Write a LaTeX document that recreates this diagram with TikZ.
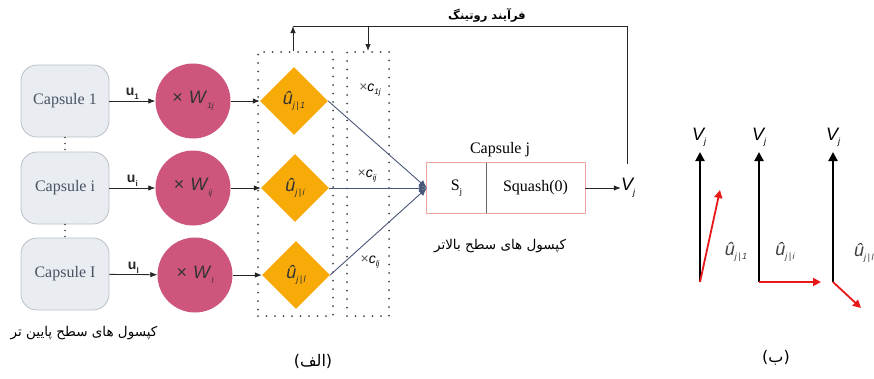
\documentclass[tikz,border=0pt]{standalone}
\usepackage{fontspec}
\setmainfont{Liberation Serif}
\setsansfont{Liberation Sans}
\newfontfamily\fa[Script=Arabic]{DejaVu Sans}
\TeXXeTstate=1
\usetikzlibrary{arrows.meta,shapes.geometric}
\definecolor{capfill}{RGB}{233,237,241}
\definecolor{capdraw}{RGB}{185,192,200}
\definecolor{captext}{RGB}{72,82,98}
\definecolor{wpink}{RGB}{206,86,124}
\definecolor{dorange}{RGB}{248,170,8}
\definecolor{lblue}{RGB}{72,86,120}
\definecolor{jred}{RGB}{236,165,160}
\definecolor{vred}{RGB}{232,24,24}
\definecolor{dotgray}{RGB}{70,70,70}
\newcommand{\lowsub}[2][9]{\raisebox{-0.5ex}{\fontsize{#1}{#1}\selectfont #2}}
\newcommand{\uhatlbl}[1]{{\sffamily\itshape\fontsize{18}{19}\selectfont û\lowsub[9]{#1}}}
\newcommand{\wlbl}[1]{{\sffamily\fontsize{18}{20}\selectfont ×\,\,\textit{W}\lowsub[8]{\itshape #1}}}
\newcommand{\clbl}[1]{{\sffamily\fontsize{14}{16}\selectfont \textcolor{black!65}{×}\textit{c}\lowsub[8]{\itshape #1}}}
\begin{document}
\begin{tikzpicture}[x=1pt,y=-1pt,
  capsule/.style={draw=capdraw, fill=capfill, rounded corners=16pt, minimum width=88pt, minimum height=72pt, line width=0.8pt, font=\rmfamily\fontsize{16}{18}\selectfont, text=captext, inner sep=0pt},
  wcirc/.style={circle, fill=wpink, minimum size=75pt, inner sep=0pt, text=black!80},
  udiam/.style={diamond, fill=dorange, minimum width=68pt, minimum height=68pt, inner sep=0pt, text=black!80},
  arr/.style={-{Latex[length=7pt,width=5.5pt]}, line width=0.8pt, draw=black!85},
  barr/.style={-{Latex[length=8pt,width=7pt]}, line width=0.9pt, draw=lblue},
  dotbox/.style={draw=dotgray, line width=2pt, dash pattern=on 0pt off 8.5pt, line cap=round, inner sep=0pt},
  plain/.style={inner sep=1pt},
  fatxt/.style={inner sep=1pt, font=\fa\fontsize{13.5}{15}\selectfont},
  vblack/.style={-{Triangle[length=9pt,width=9pt]}, line width=2pt},
  vredarr/.style={-{Triangle[length=8pt,width=8pt]}, line width=1.8pt, draw=vred, fill=vred},
  vlbl/.style={inner sep=0pt, font=\sffamily\itshape\fontsize{18}{20}\selectfont},
  ulbl/.style={inner sep=1pt, above, font=\sffamily\bfseries\fontsize{14}{16}\selectfont, text=black!85}]
\useasboundingbox (0,0) rectangle (874,378);

% lower-level capsules
\node[capsule] (c1) at (65,101) {Capsule 1};
\node[capsule] (ci) at (65,188) {Capsule i};
\node[capsule] (cl) at (65,274) {Capsule I};
\draw[dotgray, line width=1.8pt, dash pattern=on 0pt off 6pt, line cap=round] (c1.south) -- (ci.north);
\draw[dotgray, line width=1.8pt, dash pattern=on 0pt off 6pt, line cap=round] (ci.south) -- (cl.north);

% weight circles
\node[wcirc] (w1) at (193,101) {\wlbl{1j}};
\node[wcirc] (wi) at (193,188) {\wlbl{ij}};
\node[wcirc] (wl) at (195,275) {\wlbl{l}};

\draw[arr] (c1) -- node[ulbl] {u\lowsub[8]{1}} (w1);
\draw[arr] (ci) -- node[ulbl] {u\lowsub[8]{i}} (wi);
\draw[arr] (cl) -- node[ulbl] {u\lowsub[8]{l}} (wl);

% dotted boxes
\node[dotbox, minimum width=75pt, minimum height=264pt] (r1) at (295.5,184) {};
\node[dotbox, minimum width=42pt, minimum height=264pt] (r2) at (368,184) {};

% diamonds
\node[udiam] (d1) at (294,101) {\uhatlbl{j\,|\,1}};
\node[udiam] (di) at (295,188) {\uhatlbl{j\,|\,i}};
\node[udiam] (dl) at (296,275) {\uhatlbl{j\,|\,l}};

\draw[arr] (w1) -- (d1.west);
\draw[arr] (wi) -- (di.west);
\draw[arr] (wl) -- (dl.west);

% coupling labels
\node[plain] (k1) at (370,90) {\clbl{1j}};
\node[plain] (ki) at (367,176) {\clbl{ij}};
\node[plain] (kl) at (370,262) {\clbl{lj}};

% capsule j
\node[minimum width=59pt, minimum height=50pt, inner sep=0pt, font=\fontsize{16}{18}\selectfont] (sj) at (456.5,188) {S\lowsub[9]{j}};
\node[minimum width=99pt, minimum height=50pt, inner sep=0pt, font=\fontsize{16}{18}\selectfont] (sq) at (535.5,188) {Squash(0)};
\draw[jred, line width=0.8pt] (sj.north west) rectangle (sq.south east);
\draw[black!60, line width=0.9pt] (sj.north east) -- (sj.south east);
\node[plain, font=\fontsize{16}{18}\selectfont] (cjl) at (500,150) {Capsule j};
\node[fatxt] (hl) at (500,246) {\beginR کپسول های سطح بالاتر\endR};

\draw[barr] (d1.east) -- (sj.west);
\draw[barr] (di.east) -- (sj.west);
\draw[barr] (dl.east) -- (sj.west);

% output
\node[vlbl] (vj) at (628,188) {V\lowsub[9]{j}};
\draw[arr] (sq.east) -- (vj.west);

% routing loop
\coordinate (rt) at (627,26);
\coordinate (lt) at (293,26);
\draw[black!85, line width=0.8pt] ([yshift=14pt]vj.north -| rt) -- (rt) -- (lt);
\draw[arr] (r1.north -| lt) -- (lt);
\draw[arr] (r2.north |- rt) -- (r2.north);
\node[fatxt, font=\fa\bfseries\fontsize{11.5}{13}\selectfont, anchor=south] (rl) at (487,24) {\beginR فرآیند روتینگ\endR};

% lower labels
\node[fatxt] (ll) at (84,333) {\beginR کپسول های سطح پایین تر\endR};
\node[plain, font=\fa\fontsize{16}{18}\selectfont] (la) at (313,361) {\beginR(الف)\endR};
\node[plain, font=\fa\fontsize{16}{18}\selectfont] (lb) at (776,358) {\beginR(ب)\endR};

% panel (b)
\coordinate (a1) at (700,282); \coordinate (a1t) at (700,152); \coordinate (a1r) at (720,190);
\coordinate (a2) at (759,282); \coordinate (a2t) at (759,152); \coordinate (a2r) at (821,282);
\coordinate (a3) at (833,282); \coordinate (a3t) at (833,152); \coordinate (a3r) at (861,308);
\draw[vblack] (a1) -- (a1t);
\draw[vblack] (a2) -- (a2t);
\draw[vblack] (a3) -- (a3t);
\draw[vredarr] (a1) -- (a1r);
\draw[vredarr] (a2) -- (a2r);
\draw[vredarr] (a3) -- (a3r);
\node[vlbl, anchor=south] (v1) at (699,147) {V\lowsub[9]{j}};
\node[vlbl, anchor=south] (v2) at (759,147) {V\lowsub[9]{j}};
\node[vlbl, anchor=south] (v3) at (833,147) {V\lowsub[9]{j}};
\node[plain, text=black!75] (q1) at (736,252) {\uhatlbl{j\,|\,1}};
\node[plain, text=black!75] (q2) at (785,252) {\uhatlbl{j\,|\,i}};
\node[plain, text=black!75, anchor=west] (q3) at (853,253) {\uhatlbl{j\,|\,l}};
\end{tikzpicture}
\end{document}
